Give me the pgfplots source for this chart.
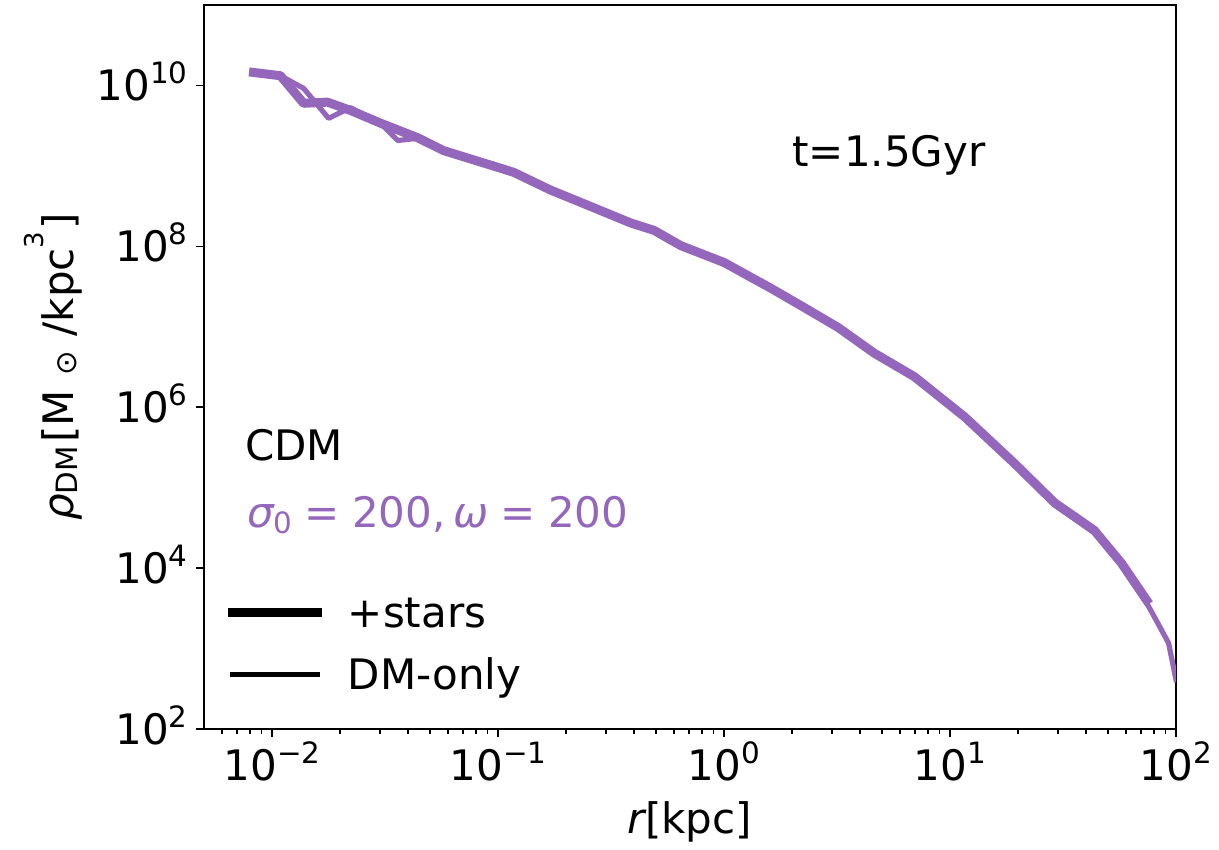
\documentclass[border=0pt]{standalone}
\usepackage{fontspec}
\setmainfont{DejaVu Sans}
\usepackage{pgfplots}
\pgfplotsset{compat=1.18}
\definecolor{tabpurple}{HTML}{9467BD}
\newcommand{\fs}{\fontsize{21bp}{25bp}\selectfont}
\newcommand{\ssz}{\fontsize{14.7bp}{16bp}\selectfont}
\newcommand{\tk}[1]{10\raisebox{0.4em}{\ssz #1}}
\newcommand{\sub}[2][0.1em]{\raisebox{-#1}{\ssz #2}}
\newcommand{\sups}[2][0.4em]{\raisebox{#1}{\ssz #2}}

\pgfplotstableread{
r rho
0.00828 1.45e10
0.0109 1.32e10
0.0138 6.0e9
0.0176 6.2e9
0.0222 4.9e9
0.0302 3.4e9
0.0441 2.24e9
0.0574 1.55e9
0.0929 1.02e9
0.1175 8.3e8
0.171 5.0e8
0.2495 3.24e8
0.387 1.95e8
0.49 1.58e8
0.644 1.02e8
1.0 6.3e7
1.61 3.02e7
2.26 1.74e7
3.2 9.8e6
4.62 4.7e6
6.95 2.4e6
11.6 7.6e5
19.3 2.0e5
29.0 6.5e4
43.5 2.95e4
57.4 1.15e4
74.1 4.0e3
}\stars

\pgfplotstableread{
r rho
0.00828 1.45e10
0.0109 1.32e10
0.0138 9.2e9
0.0178 3.9e9
0.0222 5.3e9
0.0302 3.4e9
0.0360 2.07e9
0.0441 2.2e9
0.0574 1.5e9
0.0929 1.0e9
0.1175 8.2e8
0.171 5.0e8
0.2495 3.2e8
0.387 1.93e8
0.49 1.55e8
0.644 1.0e8
1.0 6.2e7
1.61 3.0e7
2.26 1.72e7
3.2 9.6e6
4.62 4.6e6
6.95 2.3e6
11.6 7.3e5
19.3 1.9e5
29.0 6.1e4
43.5 2.75e4
57.4 1.08e4
74.1 3.7e3
80.4 2.45e3
92.7 1.17e3
100 4.1e2
}\dmonly

\begin{document}
\begin{tikzpicture}
\begin{axis}[name=ax, scale only axis, width=486bp, height=362bp,
  xmode=log, ymode=log,
  xmin=0.005, xmax=100, ymin=1e2, ymax=1e11,
  xtick={0.01,0.1,1,10,100},
  xticklabels={\tk{−2},\tk{−1},\tk{0},\tk{1},\tk{2}},
  minor xtick={0.006,0.007,0.008,0.009,0.02,0.03,0.04,0.05,0.06,0.07,0.08,0.09,0.2,0.3,0.4,0.5,0.6,0.7,0.8,0.9,2,3,4,5,6,7,8,9,20,30,40,50,60,70,80,90},
  ytick={1e2,1e4,1e6,1e8,1e10},
  yticklabels={\tk{2},\tk{4},\tk{6},\tk{8},\tk{10}},
  minor ytick={},
  yminorticks=false,
  tick align=outside,
  xtick pos=bottom, ytick pos=left,
  major tick length=4bp, minor tick length=2.4bp,
  every tick/.style={black, line width=0.75bp},
  axis line style={black, line width=1bp},
  tick label style={font=\fs},
  xticklabel style={anchor=base, inner sep=0pt, yshift=-21.5bp},
  yticklabel style={anchor=base east, inner sep=0pt, xshift=-4bp, yshift=-7.65bp},
  xlabel={\fs{\itshape r}[kpc]},
  xlabel style={at={(rel axis cs:0.5,0)}, anchor=center, yshift=-46.5bp, inner sep=0pt},
  ylabel={\fs{\itshape ρ}\sub{DM}\hspace{0.08em}[M\hspace{0.35em}\raisebox{-0.08em}{\ssz ⊙}\hspace{0.35em}/kpc\raisebox{0.7em}{\fontsize{13bp}{14bp}\selectfont 3}\hspace{0.05em}]},
  ylabel style={at={(rel axis cs:-0.1553,0.5)}, anchor=center, inner sep=0pt},
  legend style={draw=none, fill=none, at={(rel axis cs:0.0242,0.1902)}, anchor=north west,
    inner xsep=0pt, inner ysep=0pt, row sep=10bp, column sep=13bp,
    nodes={inner sep=0pt, text height=17.85bp, text depth=3.15bp, font=\fs}},
  legend cell align=left,
  legend image code/.code={\draw[#1] (0bp,0bp) -- (42.5bp,0bp);},
]
\addplot[tabpurple, line width=4.5bp, line join=round, line cap=rect, forget plot] table[x=r,y=rho] {\stars};
\addplot[tabpurple, line width=2.6bp, line join=round, line cap=rect, forget plot] table[x=r,y=rho] {\dmonly};
\addlegendimage{black, line width=4.5bp, line cap=rect}
\addlegendentry{+stars}
\addlegendimage{black, line width=2.6bp, line cap=rect}
\addlegendentry{DM-only}
\node[anchor=base west, inner sep=0pt, font=\fs] at (rel axis cs:0.605,0.7776) {t=1.5Gyr};
\node[anchor=base west, inner sep=0pt, font=\fs] at (rel axis cs:0.0418,0.3715) {CDM};
\node[anchor=base west, inner sep=0pt, font=\fs, text=tabpurple] at (rel axis cs:0.0442,0.279)
  {{\itshape σ}\sub[0.16em]{0}\hspace{0.29em}=\hspace{0.29em}200,\hspace{0.18em}{\itshape ω}\hspace{0.29em}=\hspace{0.29em}200};
\end{axis}
\pgfresetboundingbox
\path ([shift={(-102bp,-60bp)}]ax.south west) rectangle ([shift={(21.5bp,2.5bp)}]ax.north east);
\end{tikzpicture}
\end{document}
